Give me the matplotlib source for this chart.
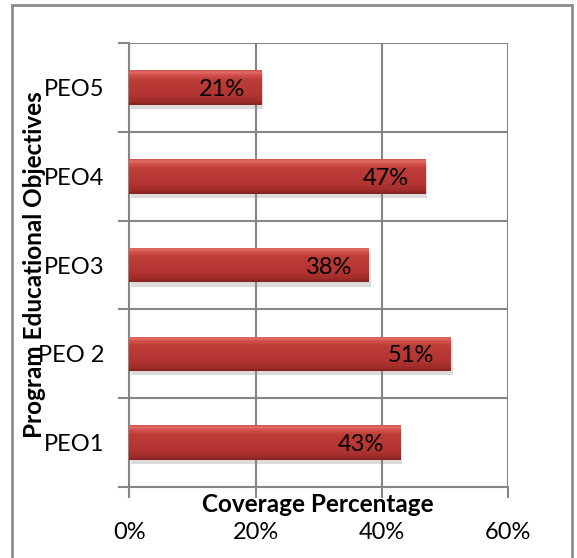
import numpy as np
import matplotlib
matplotlib.use('Agg')
import matplotlib.pyplot as plt
import matplotlib.patheffects as pe
from matplotlib.patches import Rectangle
from matplotlib.colors import to_rgb

plt.rcParams['font.family'] = ['Lato', 'DejaVu Sans']

objectives = ['PEO1', 'PEO 2', 'PEO3', 'PEO4', 'PEO5']
coverage = [43, 51, 38, 47, 21]          # percent
xticks = [0, 20, 40, 60]

grid_col = '#868686'
bar_h = 0.39

fig = plt.figure(figsize=(5.77, 5.58), dpi=100)
ax = fig.add_axes([0.2244, 0.1272, 0.656, 0.7957])

# vertical shading profile for the bevelled bars
stops = [(0.00, '#86221f'), (0.10, '#a02c29'), (0.30, '#b33532'),
         (0.72, '#bd3c38'), (0.86, '#d1504c'), (0.94, '#e56a66'), (1.00, '#cf5551')]
rows = 64
pos = np.linspace(0, 1, rows)
shade = np.zeros((rows, 1, 3))
for c in range(3):
    shade[:, 0, c] = np.interp(pos, [s[0] for s in stops], [to_rgb(s[1])[c] for s in stops])

ypos = np.arange(len(objectives))
bars = ax.barh(ypos, coverage, height=bar_h, color='#b83a36', zorder=3,
               path_effects=[pe.SimplePatchShadow(offset=(1, -3), shadow_rgbFace='#888888', alpha=0.3),
                             pe.Normal()])
for b, y, v in zip(bars, ypos, coverage):
    im = ax.imshow(shade, extent=(0, v, y - bar_h / 2, y + bar_h / 2), origin='lower',
                   aspect='auto', interpolation='bilinear', zorder=4)
    im.set_clip_path(b)
    ax.annotate(f'{v}%', xy=(v, y), xytext=(-12, -1.5), textcoords='offset points',
                ha='right', va='center', fontsize=17, color='black', zorder=5)

ax.set_xlim(0, 60)
ax.set_ylim(-0.5, len(objectives) - 0.5)

# category boundaries as gridlines, labels at the centres
ax.set_yticks(np.arange(-0.5, len(objectives), 1.0))
ax.set_yticklabels([])
ax.set_yticks(ypos, minor=True)
ax.set_yticklabels(objectives, minor=True, fontsize=17)
ax.tick_params(axis='y', which='major', length=8, width=1.5, color=grid_col)
ax.tick_params(axis='y', which='minor', length=0, pad=18)

ax.set_xticks(xticks)
ax.set_xticklabels([f'{t}%' for t in xticks], fontsize=17)
ax.tick_params(axis='x', length=8, width=1.5, color=grid_col, pad=17)

ax.grid(True, which='major', color=grid_col, linewidth=1.5, zorder=0)
ax.set_axisbelow(True)
for side in ['top', 'right']:
    ax.spines[side].set_visible(False)
for side in ['left', 'bottom']:
    ax.spines[side].set_color(grid_col)
    ax.spines[side].set_linewidth(1.5)

fig.text(0.55, 1 - 505 / 558, 'Coverage Percentage', ha='center', va='center',
         fontsize=17.5, fontweight='bold')
fig.text(35 / 577, 1 - 265 / 558, 'Program Educational Objectives', ha='center', va='center',
         rotation=90, fontsize=17.5, fontweight='bold')

fig.patches.append(Rectangle((12 / 577, -0.02), 560 / 577, 1.02 - 5 / 558, transform=fig.transFigure,
                             fill=False, edgecolor='#8c8c8c', linewidth=2))

fig.savefig('out.png', dpi=100)
